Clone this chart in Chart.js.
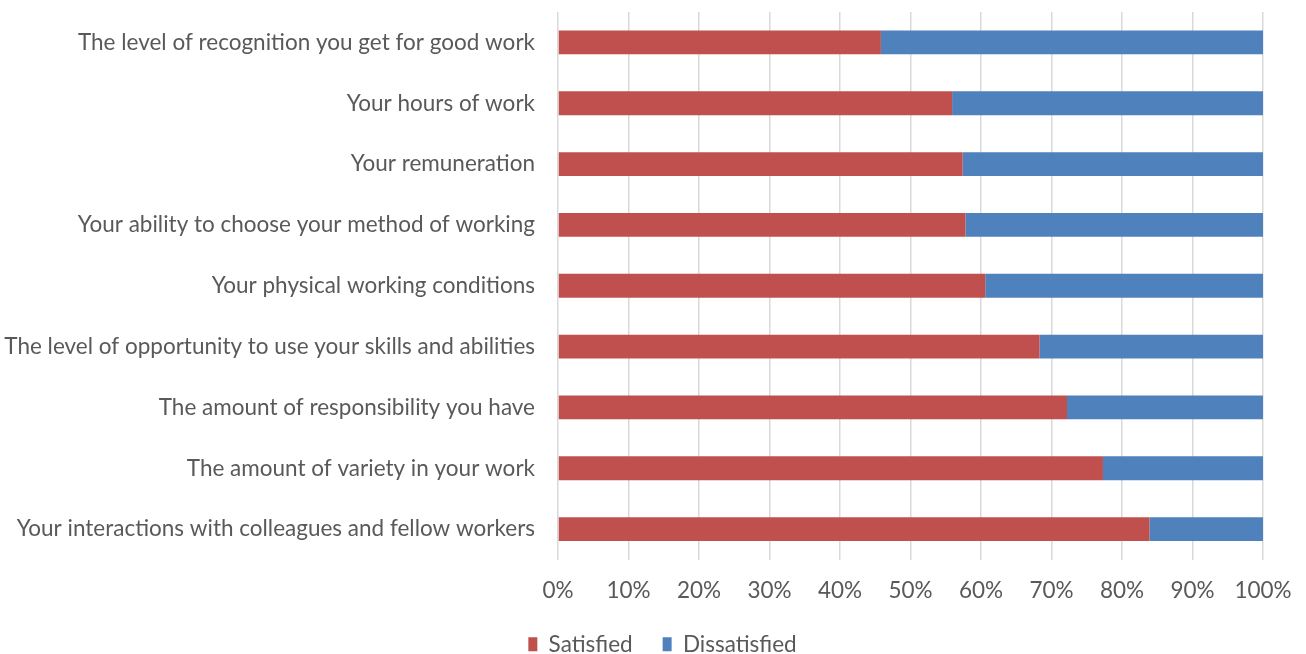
<!DOCTYPE html>
<html lang="en">
<head>
    <meta charset="UTF-8">
    <title>Job satisfaction</title>
    <script src="https://cdn.jsdelivr.net/npm/chart.js@4/dist/chart.umd.min.js"></script>
    <style>
        html, body {
            margin: 0;
            padding: 0;
            background: #ffffff;
            overflow: hidden;
        }
        .wrap {
            width: 1306px;
            height: 654px;
            overflow: hidden;
        }
    </style>
</head>
<body>
    <div class="wrap">
        <canvas id="satisfactionChart" width="1306" height="664"></canvas>
    </div>

    <script>
        const aspects = [
            "The level of recognition you get for good work",
            "Your hours of work",
            "Your remuneration",
            "Your ability to choose your method of working",
            "Your physical working conditions",
            "The level of opportunity to use your skills and abilities",
            "The amount of responsibility you have",
            "The amount of variety in your work",
            "Your interactions with colleagues and fellow workers"
        ];
        const satisfied = [45.8, 55.9, 57.4, 57.8, 60.6, 68.3, 72.2, 77.3, 83.9];
        const dissatisfied = [54.2, 44.1, 42.6, 42.2, 39.4, 31.7, 27.8, 22.7, 16.1];
        const percentTicks = [0, 10, 20, 30, 40, 50, 60, 70, 80, 90, 100];

        const textColor = '#595959';
        const fontFamily = 'Lato, "Open Sans", sans-serif';
        const fontSize = 22.5;

        // move the legend row up under the axis labels, a bit right of the canvas centre
        const legendPlacer = {
            id: 'legendPlacer',
            afterLayout(chart) {
                const lg = chart.legend;
                const h = lg.bottom - lg.top;
                lg.top = 603;
                lg.bottom = 603 + h;
                lg.left += 31;
                lg.right += 31;
            }
        };

        const ctx = document.getElementById('satisfactionChart').getContext('2d');
        new Chart(ctx, {
            type: 'bar',
            data: {
                labels: aspects,
                datasets: [
                    {
                        label: 'Satisfied',
                        data: satisfied,
                        backgroundColor: '#c0504d'
                    },
                    {
                        label: 'Dissatisfied',
                        data: dissatisfied,
                        backgroundColor: '#4f81bd'
                    }
                ]
            },
            options: {
                indexAxis: 'y',
                responsive: false,
                animation: false,
                layout: {
                    padding: { top: 12, right: 43, bottom: 0, left: 0 }
                },
                datasets: {
                    bar: {
                        categoryPercentage: 0.4,
                        barPercentage: 0.98
                    }
                },
                scales: {
                    x: {
                        stacked: true,
                        min: 0,
                        max: 100,
                        afterBuildTicks: function(scale) {
                            scale.ticks = percentTicks.map(v => ({ value: v }));
                        },
                        afterFit: function(scale) {
                            scale.height = 42;
                            scale.paddingLeft = 0;
                            scale.paddingRight = 0;
                        },
                        grid: {
                            color: '#d9d9d9',
                            lineWidth: 1.5,
                            drawTicks: false
                        },
                        border: { display: false },
                        ticks: {
                            padding: 18,
                            color: textColor,
                            font: { family: fontFamily, size: fontSize },
                            callback: v => v + '%'
                        }
                    },
                    y: {
                        stacked: true,
                        afterFit: function(scale) {
                            scale.width = 558;
                            scale.paddingTop = 0;
                            scale.paddingBottom = 0;
                        },
                        grid: { display: false },
                        border: { display: false },
                        ticks: {
                            padding: 15,
                            color: textColor,
                            font: { family: fontFamily, size: fontSize }
                        }
                    }
                },
                plugins: {
                    legend: {
                        position: 'bottom',
                        labels: {
                            boxWidth: 9,
                            boxHeight: 14,
                            padding: 30,
                            color: textColor,
                            font: { family: fontFamily, size: fontSize }
                        }
                    },
                    tooltip: { enabled: false }
                }
            },
            plugins: [legendPlacer]
        });
    </script>
</body>
</html>
